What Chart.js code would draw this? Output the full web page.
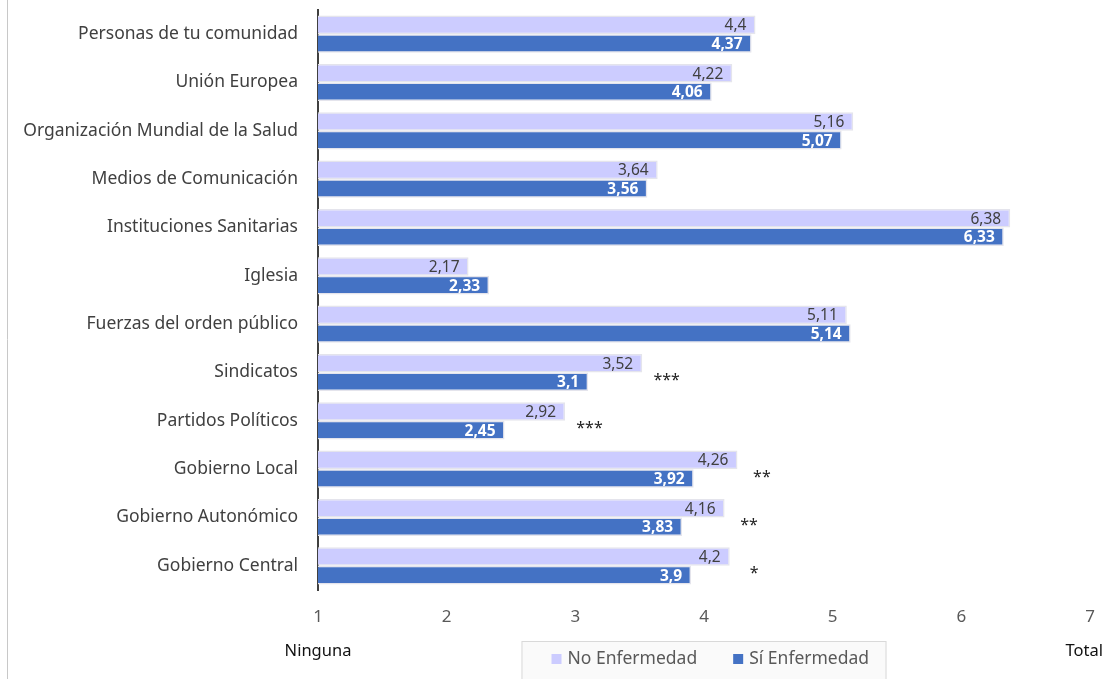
<!DOCTYPE html>
<html>
<head>
<meta charset="utf-8">
<script src="https://cdn.jsdelivr.net/npm/chart.js@4"></script>
<style>
  html, body { margin: 0; padding: 0; background: #fff; }
  #wrap { width: 1109px; height: 679px; position: relative; }
</style>
</head>
<body>
<div id="wrap"><canvas id="barChart"></canvas></div>
<script>
// Confianza en instituciones según enfermedad
const categorias = [
    'Personas de tu comunidad',
    'Unión Europea',
    'Organización Mundial de la Salud',
    'Medios de Comunicación',
    'Instituciones Sanitarias',
    'Iglesia',
    'Fuerzas del orden público',
    'Sindicatos',
    'Partidos Políticos',
    'Gobierno Local',
    'Gobierno Autonómico',
    'Gobierno Central'
];
const noEnfermedad = [4.4, 4.22, 5.16, 3.64, 6.38, 2.17, 5.11, 3.52, 2.92, 4.26, 4.16, 4.2];
const siEnfermedad = [4.37, 4.06, 5.07, 3.56, 6.33, 2.33, 5.14, 3.1, 2.45, 3.92, 3.83, 3.9];
const significancia = ['', '', '', '', '', '', '', '***', '***', '**', '**', '*'];
const escalaMin = 1;
const escalaMax = 7;
const extremoIzq = 'Ninguna';
const extremoDer = 'Total';

const FONT = '"Noto Sans", sans-serif';
const coma = v => String(v).replace('.', ',');

// Etiquetas de valor, asteriscos, extremos de la escala y leyenda
const extras = {
    id: 'extras',
    afterDatasetsDraw(chart) {
        const { ctx, scales } = chart;
        ctx.save();
        ctx.textAlign = 'right';
        ctx.textBaseline = 'middle';
        chart.data.datasets.forEach((ds, i) => {
            const meta = chart.getDatasetMeta(i);
            meta.data.forEach((bar, j) => {
                ctx.fillStyle = i === 0 ? '#404040' : '#ffffff';
                ctx.font = (i === 0 ? '' : 'bold ') + '15.5px ' + FONT;
                ctx.fillText(coma(ds.data[j]), bar.x - 9, bar.y + 1);
            });
        });

        // asteriscos de significación
        ctx.fillStyle = '#222';
        ctx.font = '16px ' + FONT;
        ctx.textAlign = 'center';
        significancia.forEach((s, j) => {
            if (!s) return;
            const x = scales.x.getPixelForValue(Math.max(noEnfermedad[j], siEnfermedad[j]) + 0.19);
            const y = scales.y.getPixelForValue(j) + 8;
            ctx.fillText(s, x, y);
        });
        ctx.restore();
    },
    afterDraw(chart) {
        const { ctx, chartArea } = chart;
        ctx.save();
        // borde izquierdo del marco
        ctx.strokeStyle = '#c8c8c8';
        ctx.lineWidth = 1;
        ctx.beginPath();
        ctx.moveTo(7.5, 0);
        ctx.lineTo(7.5, chart.height);
        ctx.stroke();

        ctx.fillStyle = '#111';
        ctx.font = '16.5px ' + FONT;
        ctx.textBaseline = 'middle';
        ctx.textAlign = 'center';
        ctx.fillText(extremoIzq, chartArea.left, 651);
        ctx.textAlign = 'right';
        ctx.fillText(extremoDer, chartArea.right + 13, 651);

        // leyenda con caja
        const cx = (chartArea.left + chartArea.right) / 2;
        const bw = 365, top = 641;
        ctx.fillStyle = '#fafafa';
        ctx.fillRect(cx - bw / 2, top, bw, 40);
        ctx.strokeStyle = '#d9d9d9';
        ctx.strokeRect(cx - bw / 2 + 0.5, top + 0.5, bw - 1, 40);
        ctx.font = '17.5px ' + FONT;
        ctx.textAlign = 'left';
        let x = cx - bw / 2 + 30;
        const y = 659;
        chart.data.datasets.forEach(ds => {
            ctx.fillStyle = ds.backgroundColor;
            ctx.fillRect(x, y - 5, 10, 10);
            ctx.fillStyle = '#595959';
            ctx.fillText(ds.label, x + 16, y);
            x += 16 + ctx.measureText(ds.label).width + 36;
        });
        ctx.restore();
    }
};

const ctx = document.getElementById('barChart').getContext('2d');
const barChart = new Chart(ctx, {
    type: 'bar',
    data: {
        labels: categorias,
        datasets: [
            {
                label: 'No Enfermedad',
                data: noEnfermedad,
                backgroundColor: '#ccccff',
                borderColor: '#e4e4ec',
                borderWidth: 1.5,
                borderSkipped: false
            },
            {
                label: 'Sí Enfermedad',
                data: siEnfermedad,
                backgroundColor: '#4472c4',
                borderColor: '#e4e4ec',
                borderWidth: 1.5,
                borderSkipped: false
            }
        ]
    },
    options: {
        indexAxis: 'y',
        responsive: true,
        maintainAspectRatio: false,
        animation: false,
        categoryPercentage: 0.77,
        barPercentage: 1,
        layout: { padding: { top: 10, right: 19, left: 0, bottom: 0 } },
        plugins: {
            legend: { display: false },
            tooltip: { enabled: false }
        },
        scales: {
            x: {
                min: escalaMin,
                max: escalaMax,
                ticks: {
                    stepSize: 1,
                    color: '#595959',
                    font: { family: FONT, size: 17 },
                    padding: 17
                },
                grid: { display: false, drawTicks: false },
                border: { display: false },
                afterFit(scale) {
                    scale.height = 89;
                    scale.paddingLeft = 0;
                    scale.paddingRight = 0;
                }
            },
            y: {
                ticks: {
                    color: '#404040',
                    font: { family: FONT, size: 17.5 },
                    padding: 20
                },
                grid: { display: false, drawTicks: false },
                border: { display: true, color: '#404040', width: 2 },
                afterFit(scale) {
                    scale.width = 318;
                    scale.paddingTop = 0;
                    scale.paddingBottom = 0;
                }
            }
        }
    },
    plugins: [extras]
});
</script>
</body>
</html>
